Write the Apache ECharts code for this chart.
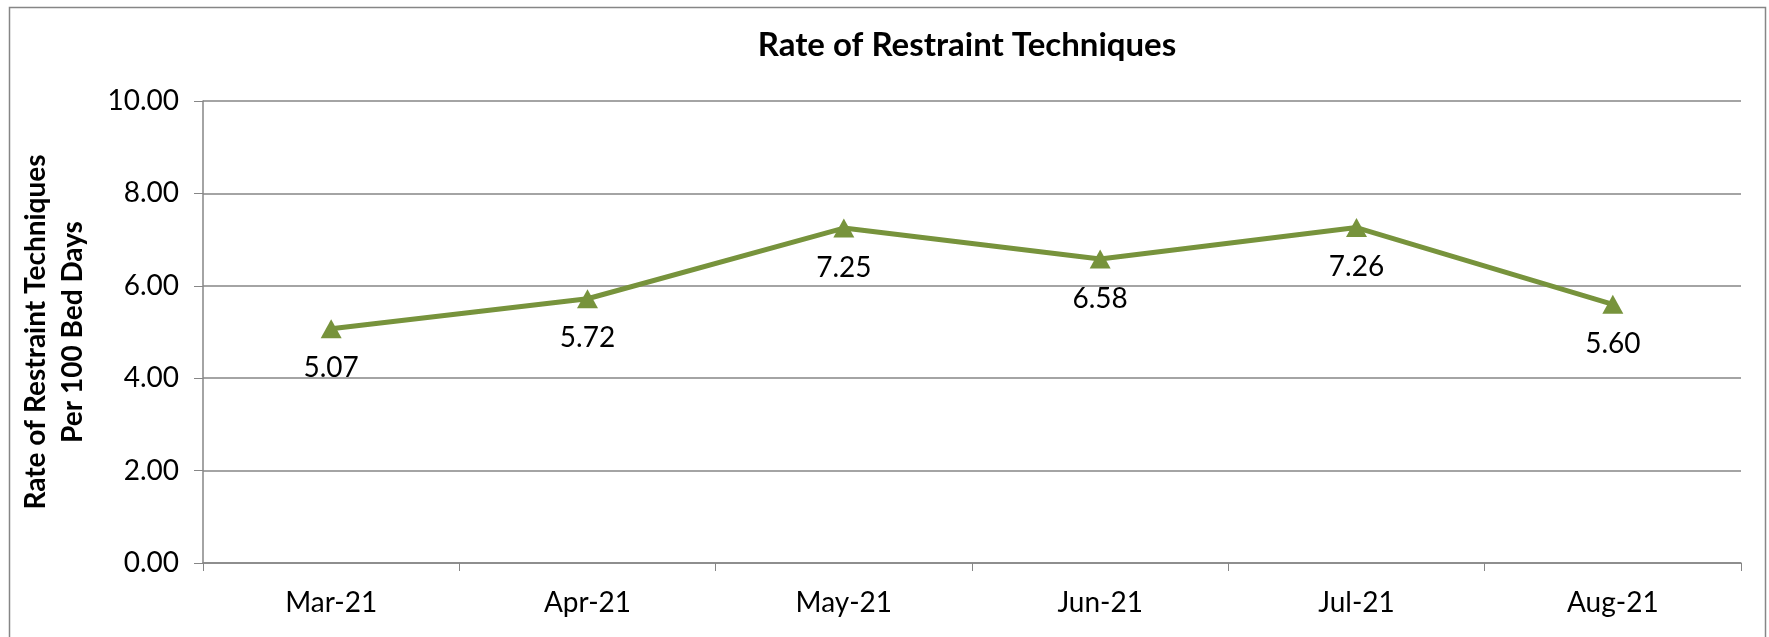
<!DOCTYPE html>
<html>
<head>
<meta charset="utf-8">
<script src="https://cdn.jsdelivr.net/npm/echarts@6/dist/echarts.min.js"></script>
<style>
	html, body { margin: 0; padding: 0; background: #fff; }
	#chart { width: 1769px; height: 637px; }
</style>
</head>
<body>
<div id="chart"></div>
<script>
var months = ["Mar-21", "Apr-21", "May-21", "Jun-21", "Jul-21", "Aug-21"];
var rates = [5.07, 5.72, 7.25, 6.58, 7.26, 5.60];
var yTicks = [0, 2, 4, 6, 8, 10];

var chartBox = document.getElementById('chart');
var mychart = echarts.init(chartBox);
var font = 'Lato, "Open Sans", sans-serif';
var option = {
	animation: false,
	textStyle: { fontFamily: font },
	title: {
		text: 'Rate of Restraint Techniques',
		left: 962,
		textAlign: 'center',
		top: 24,
		textStyle: { fontSize: 33, fontWeight: 'bold', color: '#000', fontFamily: font }
	},
	graphic: [{
		type: 'rect',
		shape: { x: 9.5, y: 7.5, width: 1756, height: 640 },
		style: { fill: 'none', stroke: '#868686', lineWidth: 1.5 },
		silent: true
	}],
	grid: { left: 203, right: 28, top: 101, bottom: 74, containLabel: false, outerBoundsMode: 'none' },
	xAxis: {
		type: 'category',
		data: months,
		boundaryGap: true,
		axisLine: { lineStyle: { color: '#868686', width: 1.5 } },
		axisTick: { show: true, length: 8, lineStyle: { color: '#868686' } },
		axisLabel: { color: '#000', fontSize: 28, margin: 26, fontFamily: font }
	},
	yAxis: {
		type: 'value',
		min: yTicks[0],
		max: yTicks[yTicks.length - 1],
		interval: 2,
		name: 'Rate of Restraint Techniques\nPer 100 Bed Days',
		nameLocation: 'middle',
		nameGap: 112,
		nameTextStyle: { color: '#000', fontSize: 28, fontWeight: 'bold', lineHeight: 37, fontFamily: font },
		axisLine: { show: true, lineStyle: { color: '#868686', width: 1.5 } },
		axisTick: { show: true, length: 9, lineStyle: { color: '#868686' } },
		axisLabel: {
			color: '#000', fontSize: 28, margin: 24, fontFamily: font,
			formatter: function(v) { return v.toFixed(2); }
		},
		splitLine: { lineStyle: { color: '#868686', width: 1.5 } }
	},
	series: [{
		name: 'Rate',
		type: 'line',
		data: rates,
		symbol: 'triangle',
		symbolSize: [21, 19],
		lineStyle: { color: '#77933C', width: 5 },
		itemStyle: { color: '#77933C' },
		label: {
			show: true,
			position: 'bottom',
			distance: 16,
			color: '#000',
			fontSize: 28,
			fontFamily: font,
			formatter: function(p) { return p.value.toFixed(2); }
		}
	}]
};
mychart.setOption(option);
</script>
</body>
</html>
